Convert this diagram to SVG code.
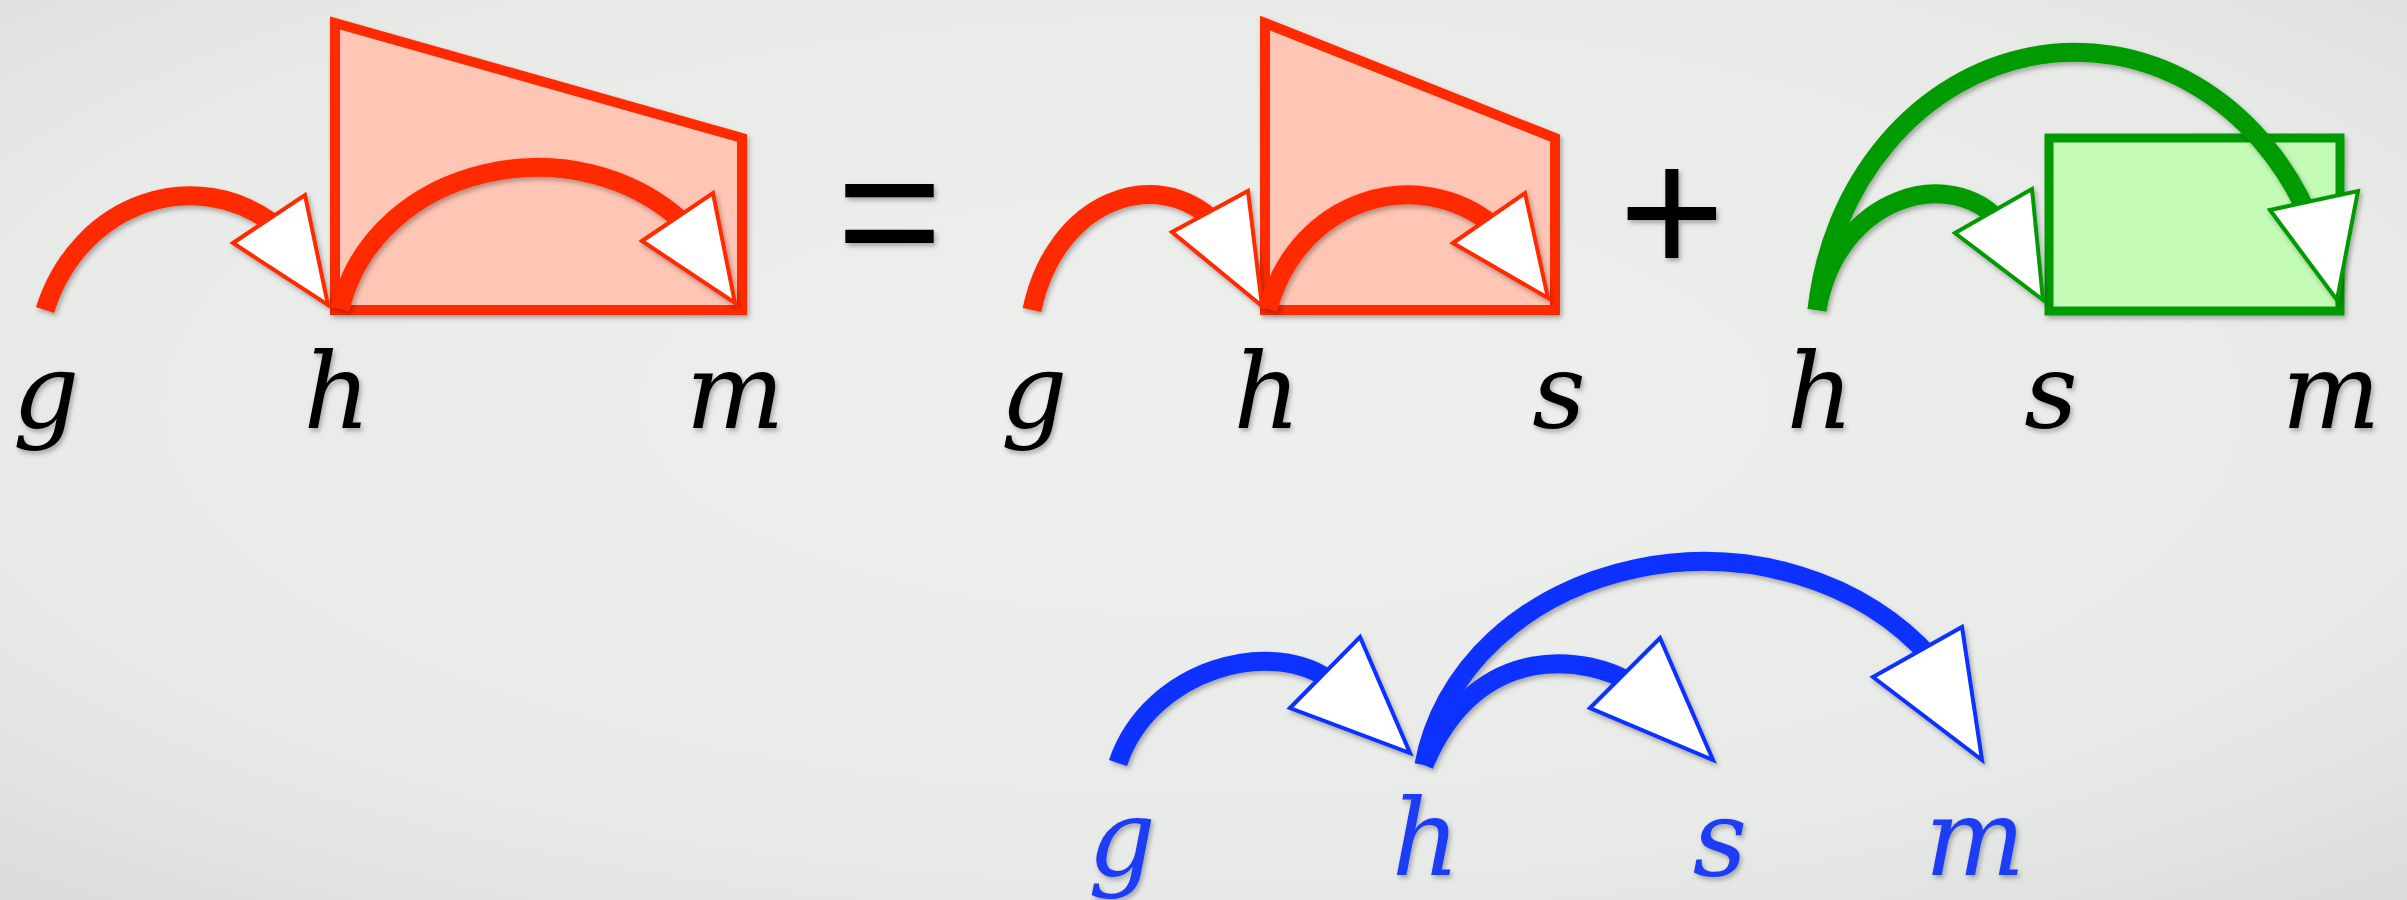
<svg xmlns="http://www.w3.org/2000/svg" width="2407" height="900" viewBox="0 0 2407 900">
<defs>
  <radialGradient id="bg" cx="50%" cy="45%" r="75%">
    <stop offset="0" stop-color="#eff0ee"/>
    <stop offset="0.7" stop-color="#e8eae7"/>
    <stop offset="1" stop-color="#d9dcd8"/>
  </radialGradient>
  <filter id="sh" x="-10%" y="-10%" width="130%" height="130%">
    <feDropShadow dx="2" dy="3" stdDeviation="2.5" flood-color="#000" flood-opacity="0.3"/>
  </filter>
</defs>
<style>
  .lbl{font-family:'DejaVu Serif',serif;font-style:italic;font-size:104px;fill:#000;text-anchor:middle}
  .blue{fill:#1a3cf5;font-size:106px}
  .op{font-family:'Liberation Sans',sans-serif;font-size:182px;fill:#000;text-anchor:middle}
  .arc{fill:none;stroke-width:19;stroke-linecap:butt}
  .r{stroke:#ff2a00}
  .g{stroke:#059b05}
  .b{stroke:#0b31ff}
  .head{fill:#fff;stroke-width:4;stroke-linejoin:miter}
  .boxr{fill:#ffc6b5;stroke:#ff2a00;stroke-width:10}
  .boxg{fill:#c4fbb7;stroke:#059b05;stroke-width:9}
</style>
<rect width="2407" height="900" fill="url(#bg)"/>

<g id="nodes" filter="url(#sh)">
  <g id="span1"><polygon class="boxr" points="335,23 742,138 742,310 335,310"/></g>
  <g id="span2"><polygon class="boxr" points="1265,23 1555,138 1555,310 1265,310"/></g>
  <g id="span3"><rect class="boxg" x="2049" y="138" width="291" height="173"/></g>

  <g id="p1-g"><text class="lbl" x="46" y="428">g</text></g>
  <g id="p1-h"><text class="lbl" x="337" y="428">h</text></g>
  <g id="p1-m"><text class="lbl" x="735" y="428">m</text></g>

  <g id="eq"><text class="op" x="887" y="274" font-style="italic">=</text></g>

  <g id="p2-g"><text class="lbl" x="1034" y="428">g</text></g>
  <g id="p2-h"><text class="lbl" x="1267" y="428">h</text></g>
  <g id="p2-s"><text class="lbl" x="1559" y="428">s</text></g>

  <g id="plus"><text class="op" x="1672" y="274">+</text></g>

  <g id="p3-h"><text class="lbl" x="1820" y="428">h</text></g>
  <g id="p3-s"><text class="lbl" x="2051" y="428">s</text></g>
  <g id="p3-m"><text class="lbl" x="2331" y="428">m</text></g>

  <g id="p4-g"><text class="lbl blue" x="1122" y="875">g</text></g>
  <g id="p4-h"><text class="lbl blue" x="1426" y="875">h</text></g>
  <g id="p4-s"><text class="lbl blue" x="1720" y="875">s</text></g>
  <g id="p4-m"><text class="lbl blue" x="1975" y="875">m</text></g>
</g>

<g id="connectors" filter="url(#sh)">
  <path class="arc r" d="M45,310 C80,200 198,164 276,226"/>
  <polygon class="head r" points="233,243 305,195 328,305"/>
  <path class="arc r" d="M340,309 C375,165 575,120 686,225"/>
  <polygon class="head r" points="642,241 713,193 735,303"/>
  <path class="arc r" d="M1032,310 C1055,200 1156,164 1215,222"/>
  <polygon class="head r" points="1172,232 1248,191 1262,306"/>
  <path class="arc r" d="M1268,309 C1298,198 1418,163 1494,226"/>
  <polygon class="head r" points="1453,243 1525,193 1548,298"/>
  <path class="arc g" d="M1817,310 C1837,195 1951,165 2000,222"/>
  <polygon class="head g" points="1955,233 2032,189 2043,300"/>
  <path class="arc g" d="M1817,310 A260,293 0 0 1 2308,215"/>
  <polygon class="head g" points="2270,210 2358,191 2337,300"/>
  <path class="arc b" d="M1118,763 C1150,668 1274,636 1332,682"/>
  <polygon class="head b" points="1290,708 1360,637 1410,753"/>
  <path class="arc b" d="M1424,765 C1478,636 1591,657 1633,684"/>
  <polygon class="head b" points="1590,708 1660,638 1713,760"/>
  <path class="arc b" d="M1424,765 A283,239 0 0 1 1931,658"/>
  <polygon class="head b" points="1873,677 1962,627 1982,760"/>
</g>
</svg>
